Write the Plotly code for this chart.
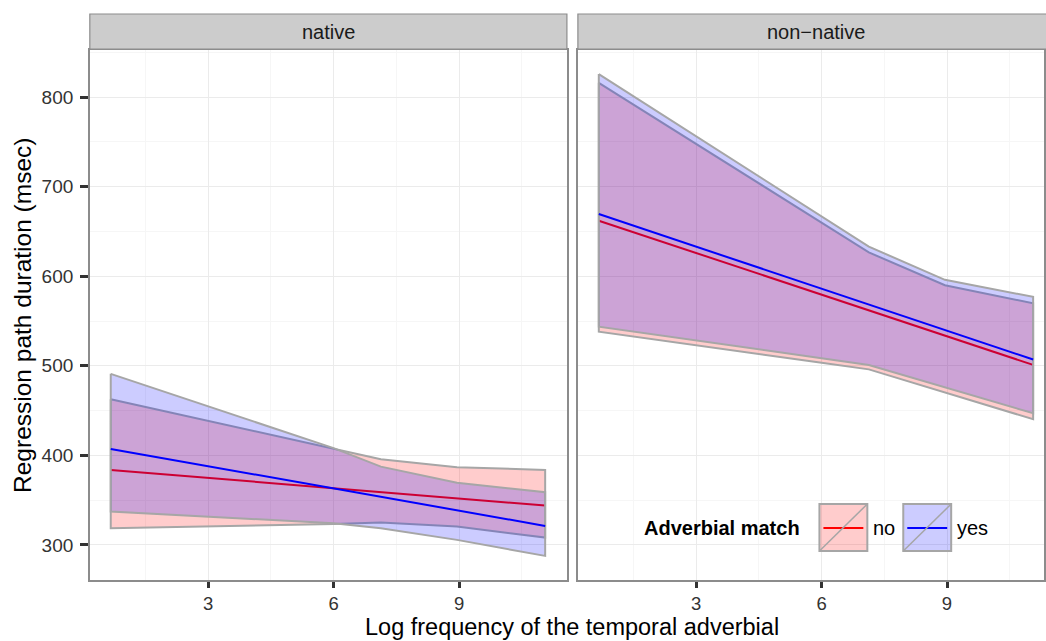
import plotly.graph_objects as go

W, H = 1046, 641

# ---------------- data ----------------
panels = ["native", "non\u2212native"]
groups = ["no", "yes"]

x_knots = [0.67, 6.0, 7.13, 8.95, 11.06]

# native panel
native_no_upper = [462.6, 408.0, 395.6, 386.7, 383.7]
native_no_lower = [318.6, 323.4, 324.9, 320.5, 308.2]
native_yes_upper = [491.0, 408.0, 387.4, 369.5, 358.8]
native_yes_lower = [337.2, 324.2, 318.6, 305.6, 287.7]
native_no_fit = [383.7, 343.9]
native_yes_fit = [407.1, 321.2]

# non-native panel
nonnative_no_upper = [816.0, 659.8, 626.6, 590.0, 569.7]
nonnative_no_lower = [538.0, 503.4, 496.0, 470.0, 440.3]
nonnative_yes_upper = [825.7, 666.8, 633.0, 596.0, 577.0]
nonnative_yes_lower = [543.7, 508.4, 500.9, 476.0, 447.0]
nonnative_no_fit = [662.0, 501.0]
nonnative_yes_fit = [669.4, 507.0]

x_fit = [0.67, 11.06]

y_ticks = [300, 400, 500, 600, 700, 800]
x_ticks = [3, 6, 9]

# ---------------- styling ----------------
FONT = "Liberation Sans, Arial, Helvetica, sans-serif"
fill_col = {"no": "rgba(255,0,0,0.2)", "yes": "rgba(0,0,255,0.2)"}
line_col = {"no": "#FF0000", "yes": "#0000FF"}
edge_col = "#A6A6A6"
TICK_FONT = dict(family=FONT, size=19, color="#333333")
XTICK_FONT = dict(family=FONT, size=18.5, color="#333333")


def px(x):
    return x / W


def py(y):
    return 1 - y / H


fig = go.Figure()

data = {
    ("x", "y"): {
        "no": (native_no_upper, native_no_lower, native_no_fit),
        "yes": (native_yes_upper, native_yes_lower, native_yes_fit),
    },
    ("x2", "y2"): {
        "no": (nonnative_no_upper, nonnative_no_lower, nonnative_no_fit),
        "yes": (nonnative_yes_upper, nonnative_yes_lower, nonnative_yes_fit),
    },
}

for (xa, ya), d in data.items():
    for g in groups:
        up, lo, fit = d[g]
        poly_x = list(x_knots) + list(reversed(x_knots)) + [x_knots[0]]
        poly_y = list(up) + list(reversed(lo)) + [up[0]]
        fig.add_trace(go.Scatter(
            x=poly_x, y=poly_y, xaxis=xa, yaxis=ya, mode="lines",
            fill="toself", fillcolor=fill_col[g],
            line=dict(color=edge_col, width=2), showlegend=False,
            hoverinfo="skip"))
        fig.add_trace(go.Scatter(
            x=x_fit, y=fit, xaxis=xa, yaxis=ya, mode="lines",
            line=dict(color=line_col[g], width=2), showlegend=False,
            name=g))

# ---------------- axes ----------------
ydom = [py(580), py(50)]
yrange = [260.8, 852.6]
common_x = dict(
    tickvals=x_ticks, ticks="outside", ticklen=6, tickwidth=2.5,
    tickcolor="#333333", showline=True, mirror=True, linecolor="#8C8C8C",
    linewidth=1.5, showgrid=True, gridcolor="#EBEBEB", gridwidth=1,
    zeroline=False, tickfont=XTICK_FONT,
    minor=dict(tick0=0, dtick=1.5, showgrid=True, gridcolor="#F6F6F6",
               gridwidth=1, ticks=""),
)
common_y = dict(
    range=yrange, domain=ydom, tickvals=y_ticks, showline=True, mirror=True,
    linecolor="#8C8C8C", linewidth=1.5, showgrid=True, gridcolor="#EBEBEB",
    gridwidth=1, zeroline=False,
    minor=dict(tick0=250, dtick=50, showgrid=True, gridcolor="#F6F6F6",
               gridwidth=1, ticks=""),
)

fig.update_layout(
    width=W, height=H, margin=dict(l=0, r=0, t=0, b=0),
    paper_bgcolor="white", plot_bgcolor="white",
    font=dict(family=FONT, color="#1A1A1A"),
    xaxis=dict(domain=[px(90), px(568)], range=[0.17, 11.58], anchor="y",
               **common_x),
    xaxis2=dict(domain=[px(579), 1.0], range=[0.17, 11.32], anchor="y2",
                **common_x),
    yaxis=dict(anchor="x", ticks="outside", ticklen=8, tickwidth=2.5,
               tickcolor="#333333", tickfont=TICK_FONT,
               ticklabelstandoff=3, **common_y),
    yaxis2=dict(anchor="x2", matches="y", showticklabels=False, ticks="",
                **common_y),
    showlegend=False,
)

shapes = []
annotations = []

# strips
strip_spans = [(90, 568), (579, 1060)]
strip_centers = [329, 818]
for (x0, x1), cx, label in zip(strip_spans, strip_centers, panels):
    shapes.append(dict(type="rect", xref="paper", yref="paper",
                       x0=px(x0), x1=px(x1), y0=py(49), y1=py(14),
                       fillcolor="#CCCCCC", line=dict(color="#8C8C8C", width=1.2),
                       layer="above"))
    annotations.append(dict(text=label, xref="paper", yref="paper",
                            x=px(cx), y=py(32), showarrow=False,
                            font=dict(family=FONT, size=20, color="#1A1A1A"),
                            xanchor="center", yanchor="middle"))

# axis titles
annotations.append(dict(text="Log frequency of the temporal adverbial",
                        xref="paper", yref="paper", x=px(573), y=0,
                        showarrow=False, xanchor="center", yanchor="bottom",
                        borderpad=0,
                        font=dict(family=FONT, size=23.5, color="#000000")))
annotations.append(dict(text="Regression path duration (msec)",
                        xref="paper", yref="paper", x=px(22), y=py(315),
                        showarrow=False, xanchor="center", yanchor="middle",
                        textangle=-90,
                        font=dict(family=FONT, size=24.5, color="#000000")))

# legend (drawn manually inside the right panel)
shapes.append(dict(type="rect", xref="paper", yref="paper",
                   x0=px(635), x1=px(996), y0=py(558), y1=py(495),
                   fillcolor="white", line=dict(width=0), layer="between"))
annotations.append(dict(text="<b>Adverbial match</b>", xref="paper",
                        yref="paper", x=px(643), y=py(528), showarrow=False,
                        xanchor="left", yanchor="middle",
                        font=dict(family=FONT, size=20, color="#000000")))
key_x = {"no": 821, "yes": 905}
for g in groups:
    k0 = key_x[g]
    k1 = k0 + 48
    shapes.append(dict(type="rect", xref="paper", yref="paper",
                       x0=px(k0), x1=px(k1), y0=py(551), y1=py(504),
                       fillcolor=fill_col[g],
                       line=dict(color=edge_col, width=2), layer="above"))
    shapes.append(dict(type="line", xref="paper", yref="paper",
                       x0=px(k0 + 4), x1=px(k1 - 4), y0=py(528), y1=py(528),
                       line=dict(color=line_col[g], width=2), layer="above"))
    shapes.append(dict(type="line", xref="paper", yref="paper",
                       x0=px(k0), x1=px(k1), y0=py(551), y1=py(504),
                       line=dict(color=edge_col, width=1.5), layer="above"))
    annotations.append(dict(text=g, xref="paper", yref="paper",
                            x=px(k1 + 4), y=py(528), showarrow=False,
                            xanchor="left", yanchor="middle",
                            font=dict(family=FONT, size=20, color="#000000")))

fig.update_layout(shapes=shapes, annotations=annotations)

fig.write_html("out.html")
